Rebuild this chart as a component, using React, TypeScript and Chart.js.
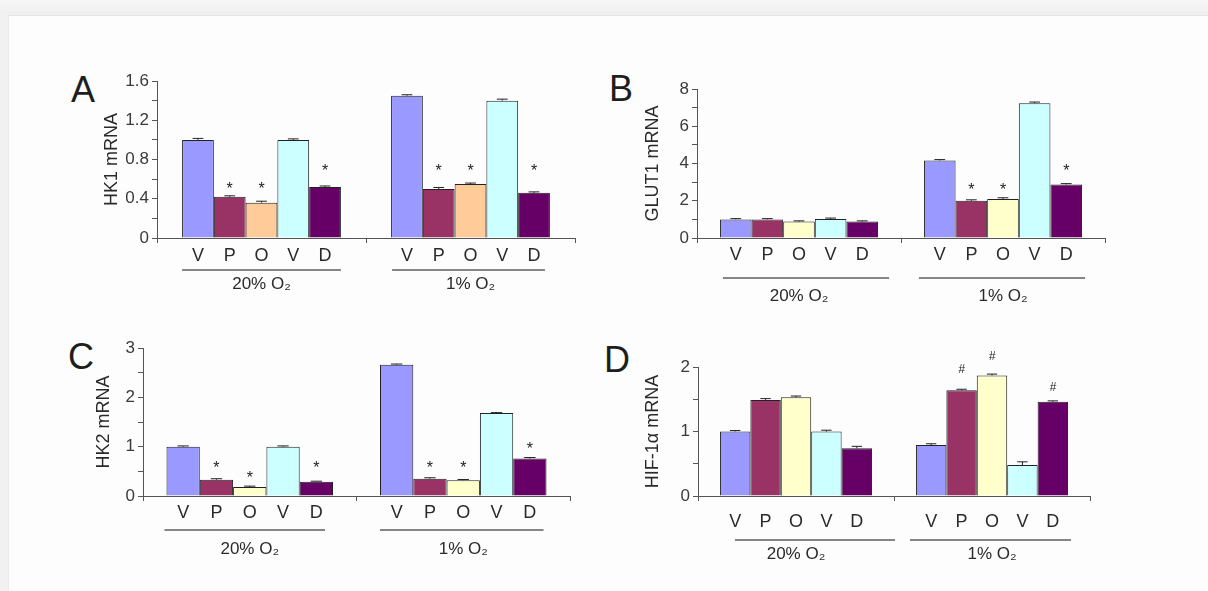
import React, { useEffect, useRef } from "react";
import { Chart, registerables } from "chart.js";

Chart.register(...registerables);

// ---------- data ----------
const groupLabels = ["20% O₂", "1% O₂"];
const treatmentLetters = ["V", "P", "O", "V", "D"];

// Panel A – HK1 mRNA
const hk1Normoxia = [1.0, 0.42, 0.36, 1.0, 0.52];
const hk1Hypoxia = [1.45, 0.5, 0.55, 1.4, 0.46];
const hk1ErrNormoxia = [0.015, 0.01, 0.015, 0.01, 0.01];
const hk1ErrHypoxia = [0.01, 0.015, 0.01, 0.015, 0.01];
const hk1MarkNormoxia = [null, 0.55, 0.55, null, 0.73];
const hk1MarkHypoxia = [null, 0.73, 0.73, null, 0.73];
const hk1Ticks = [0, 0.4, 0.8, 1.2, 1.6];

// Panel B – GLUT1 mRNA
const glut1Normoxia = [1.0, 1.0, 0.88, 1.02, 0.88];
const glut1Hypoxia = [4.16, 2.0, 2.1, 7.24, 2.87];
const glut1ErrNormoxia = [0.04, 0.04, 0.04, 0.05, 0.04];
const glut1ErrHypoxia = [0.05, 0.05, 0.06, 0.06, 0.05];
const glut1MarkNormoxia = [null, null, null, null, null];
const glut1MarkHypoxia = [null, 2.85, 2.85, null, 3.87];
const glut1Ticks = [0, 2, 4, 6, 8];

// Panel C – HK2 mRNA
const hk2Normoxia = [1.0, 0.33, 0.18, 1.0, 0.29];
const hk2Hypoxia = [2.66, 0.35, 0.32, 1.68, 0.76];
const hk2ErrNormoxia = [0.015, 0.02, 0.02, 0.015, 0.01];
const hk2ErrHypoxia = [0.015, 0.02, 0.015, 0.01, 0.02];
const hk2MarkNormoxia = [null, 0.66, 0.46, null, 0.66];
const hk2MarkHypoxia = [null, 0.66, 0.66, null, 1.05];
const hk2Ticks = [0, 1, 2, 3];

// Panel D – HIF-1α mRNA
const hifNormoxia = [1.0, 1.49, 1.53, 1.0, 0.74];
const hifHypoxia = [0.79, 1.64, 1.87, 0.48, 1.46];
const hifErrNormoxia = [0.015, 0.02, 0.02, 0.02, 0.03];
const hifErrHypoxia = [0.02, 0.015, 0.02, 0.05, 0.015];
const hifMarkNormoxia = [null, null, null, null, null];
const hifMarkHypoxia = [null, 1.98, 2.17, null, 1.69];
const hifTicks = [0, 1, 2];

// ---------- styles ----------
const FONT = "'Liberation Sans', Arial, 'DejaVu Sans', sans-serif";
const AXIS = "#555555";
const TEXT = "#2a2a2a";
const colV = "#9999ff";
const colP = "#993366";
const colOPeach = "#ffcc99";
const colOYellow = "#ffffcc";
const colV2 = "#ccffff";
const colD = "#660066";

type Rect = { left: number; top: number; width: number; height: number };
type Plot = { left: number; right: number; top: number; bottom: number };

type Panel = {
  letter: string;
  letterPos: { x: number; y: number };
  title: string;
  normoxia: number[];
  hypoxia: number[];
  errN: number[];
  errH: number[];
  markN: (number | null)[];
  markH: (number | null)[];
  symbol: string;
  yMax: number;
  yStep: number;
  labelTicks: number[];
  colors: string[];
  canvas: Rect;
  plot: Plot;
  titleX: number;
  catPct: number;
  letterDy: number;
  lineY: number;
  lineOffsets: number[][];
  labelPad: number;
};

const panels: Panel[] = [
  {
    letter: "A",
    letterPos: { x: 71, y: 72 },
    title: "HK1 mRNA",
    normoxia: hk1Normoxia,
    hypoxia: hk1Hypoxia,
    errN: hk1ErrNormoxia,
    errH: hk1ErrHypoxia,
    markN: hk1MarkNormoxia,
    markH: hk1MarkHypoxia,
    symbol: "*",
    yMax: 1.6,
    yStep: 0.2,
    labelTicks: hk1Ticks,
    colors: [colV, colP, colOPeach, colV2, colD],
    canvas: { left: 40, top: 40, width: 560, height: 265 },
    plot: { left: 157, right: 575, top: 81, bottom: 238 },
    titleX: 112,
    catPct: 0.76,
    letterDy: 18.5,
    lineY: 270,
    lineOffsets: [[0, 0], [1, -5]],
    labelPad: 31,
  },
  {
    letter: "B",
    letterPos: { x: 609, y: 71 },
    title: "GLUT1 mRNA",
    normoxia: glut1Normoxia,
    hypoxia: glut1Hypoxia,
    errN: glut1ErrNormoxia,
    errH: glut1ErrHypoxia,
    markN: glut1MarkNormoxia,
    markH: glut1MarkHypoxia,
    symbol: "*",
    yMax: 8,
    yStep: 1,
    labelTicks: glut1Ticks,
    colors: [colV, colP, colOYellow, colV2, colD],
    canvas: { left: 600, top: 40, width: 560, height: 275 },
    plot: { left: 697, right: 1105, top: 89, bottom: 238 },
    titleX: 653,
    catPct: 0.775,
    letterDy: 17.5,
    lineY: 278,
    lineOffsets: [[3, 11], [-5, 3]],
    labelPad: 43,
  },
  {
    letter: "C",
    letterPos: { x: 68, y: 339 },
    title: "HK2 mRNA",
    normoxia: hk2Normoxia,
    hypoxia: hk2Hypoxia,
    errN: hk2ErrNormoxia,
    errH: hk2ErrHypoxia,
    markN: hk2MarkNormoxia,
    markH: hk2MarkHypoxia,
    symbol: "*",
    yMax: 3,
    yStep: 0.5,
    labelTicks: hk2Ticks,
    colors: [colV, colP, colOYellow, colV2, colD],
    canvas: { left: 40, top: 310, width: 560, height: 270 },
    plot: { left: 143, right: 570, top: 348, bottom: 496 },
    titleX: 104,
    catPct: 0.78,
    letterDy: 16.8,
    lineY: 530,
    lineOffsets: [[-2, -8], [0, -3]],
    labelPad: 38,
  },
  {
    letter: "D",
    letterPos: { x: 604, y: 342 },
    title: "HIF-1α mRNA",
    normoxia: hifNormoxia,
    hypoxia: hifHypoxia,
    errN: hifErrNormoxia,
    errH: hifErrHypoxia,
    markN: hifMarkNormoxia,
    markH: hifMarkHypoxia,
    symbol: "#",
    yMax: 2,
    yStep: 0.5,
    labelTicks: hifTicks,
    colors: [colV, colP, colOYellow, colV2, colD],
    canvas: { left: 600, top: 310, width: 560, height: 270 },
    plot: { left: 698, right: 1090, top: 367, bottom: 496 },
    titleX: 653,
    catPct: 0.776,
    letterDy: 25.8,
    lineY: 540,
    lineOffsets: [[15, 23], [-6, 3]],
    labelPad: 43,
  },
];

function makeOverlay(p: Panel) {
  return {
    id: "overlay" + p.letter,
    afterDatasetsDraw(chart: any) {
      const ctx = chart.ctx;
      const y = chart.scales.y;
      const c = p.canvas;
      ctx.save();
      for (let g = 0; g < 2; g++) {
        const vals = g === 0 ? p.normoxia : p.hypoxia;
        const errs = g === 0 ? p.errN : p.errH;
        const marks = g === 0 ? p.markN : p.markH;
        let groupLeft = Infinity;
        let groupRight = -Infinity;
        for (let i = 0; i < treatmentLetters.length; i++) {
          const bar = chart.getDatasetMeta(i).data[g] as any;
          const bx = bar.x;
          const bw = bar.width;
          groupLeft = Math.min(groupLeft, bx - bw / 2);
          groupRight = Math.max(groupRight, bx + bw / 2);
          // error bar
          const top = y.getPixelForValue(vals[i] + errs[i]);
          ctx.strokeStyle = "#222";
          ctx.lineWidth = 1;
          ctx.beginPath();
          ctx.moveTo(bx, bar.y);
          ctx.lineTo(bx, top);
          ctx.moveTo(bx - bw * 0.17, top);
          ctx.lineTo(bx + bw * 0.17, top);
          ctx.stroke();
          // significance mark
          const m = marks[i];
          if (m !== null && m !== undefined) {
            const my = y.getPixelForValue(m);
            ctx.fillStyle = "#222";
            ctx.textAlign = "center";
            ctx.textBaseline = "alphabetic";
            if (p.symbol === "*") {
              ctx.font = `16px ${FONT}`;
              ctx.fillText("*", bx, my + 16 * 0.6);
            } else {
              ctx.font = `italic 12px ${FONT}`;
              ctx.fillText("#", bx, my + 12 * 0.36);
            }
          }
          // letter under bar
          ctx.fillStyle = TEXT;
          ctx.font = `18px ${FONT}`;
          ctx.textAlign = "center";
          ctx.textBaseline = "middle";
          ctx.fillText(treatmentLetters[i], bx, p.plot.bottom - c.top + p.letterDy);
        }
        // group underline
        const off = p.lineOffsets[g];
        ctx.strokeStyle = "#858585";
        ctx.lineWidth = 2;
        ctx.beginPath();
        const ly = p.lineY - c.top;
        ctx.moveTo(groupLeft + off[0], ly);
        ctx.lineTo(groupRight + off[1], ly);
        ctx.stroke();
      }
      ctx.restore();
    },
  };
}

function PanelChart({ p }: { p: Panel }) {
  const ref = useRef<HTMLCanvasElement>(null);
  const c = p.canvas;
  useEffect(() => {
    if (!ref.current) return;
    const titleSize = 18;
    const lineH = titleSize * 1.2;
    const chart = new Chart(ref.current, {
      type: "bar",
      data: {
        labels: groupLabels,
        datasets: treatmentLetters.map((t, i) => ({
          label: t + i,
          data: [p.normoxia[i], p.hypoxia[i]],
          backgroundColor: p.colors[i],
          borderColor: "#222222",
          borderWidth: 1,
          categoryPercentage: p.catPct,
          barPercentage: 1,
        })),
      },
      options: {
        responsive: false,
        animation: false,
        events: [],
        layout: {
          padding: {
            left: 0,
            top: p.plot.top - c.top,
            right: c.left + c.width - p.plot.right,
            bottom: 0,
          },
        },
        plugins: {
          legend: { display: false },
          tooltip: { enabled: false },
        },
        scales: {
          x: {
            grid: {
              drawOnChartArea: false,
              drawTicks: true,
              tickLength: 5,
              color: AXIS,
              offset: true,
            },
            border: { display: true, color: AXIS, width: 1 },
            ticks: {
              color: TEXT,
              font: { family: FONT, size: 17 },
              padding: p.labelPad,
              maxRotation: 0,
              autoSkip: false,
            },
            afterFit: (s: any) => {
              s.height = c.top + c.height - p.plot.bottom;
            },
          },
          y: {
            min: 0,
            max: p.yMax,
            grid: {
              drawOnChartArea: false,
              drawTicks: true,
              tickLength: 5,
              color: AXIS,
            },
            border: { display: true, color: AXIS, width: 1 },
            ticks: {
              stepSize: p.yStep,
              autoSkip: false,
              color: "#3a3a3a",
              font: { family: FONT, size: 17 },
              padding: 3,
              callback: (v: any) => {
                const n = Number(v);
                const hit = p.labelTicks.some((t) => Math.abs(t - n) < 1e-6);
                return hit ? String(Number(n.toFixed(2))) : "";
              },
            },
            title: {
              display: true,
              text: p.title,
              color: TEXT,
              font: { family: FONT, size: titleSize },
              padding: { top: p.titleX - c.left - lineH / 2, bottom: 0 },
            },
            afterFit: (s: any) => {
              s.width = p.plot.left - c.left;
            },
          },
        },
      } as any,
      plugins: [makeOverlay(p)],
    });
    return () => chart.destroy();
  }, [p]);
  return (
    <canvas
      ref={ref}
      width={c.width}
      height={c.height}
      style={{
        position: "absolute",
        left: c.left,
        top: c.top,
        width: c.width,
        height: c.height,
      }}
    />
  );
}

export default function App() {
  return (
    <div
      style={{
        position: "fixed",
        left: 0,
        top: 0,
        width: 1208,
        height: 591,
        background: "#f1f1f1",
        overflow: "hidden",
        fontFamily: FONT,
      }}
    >
      <div
        style={{
          position: "absolute",
          left: 0,
          top: 0,
          width: 1208,
          height: 14,
          background: "linear-gradient(#f7f7f7, #efefef)",
        }}
      />
      <div
        style={{
          position: "absolute",
          left: 8,
          top: 15,
          right: 0,
          bottom: 0,
          background: "#fdfdfd",
          borderTop: "1px solid #e4e4e4",
          borderLeft: "1px solid #ececec",
        }}
      />
      {panels.map((p) => (
        <React.Fragment key={p.letter}>
          <div
            style={{
              position: "absolute",
              left: p.letterPos.x,
              top: p.letterPos.y,
              fontSize: 36,
              lineHeight: "36px",
              color: "#1e1e1e",
              fontFamily: FONT,
            }}
          >
            {p.letter}
          </div>
          <PanelChart p={p} />
        </React.Fragment>
      ))}
    </div>
  );
}
